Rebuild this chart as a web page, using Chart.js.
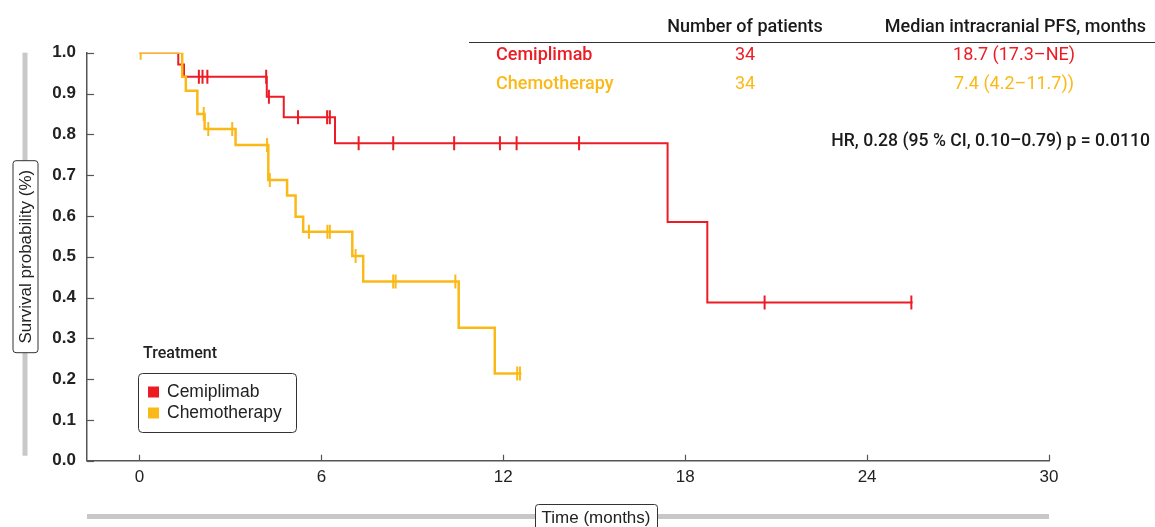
<!DOCTYPE html>
<html>
<head>
<meta charset="utf-8">
<script src="https://cdn.jsdelivr.net/npm/chart.js@4.4.1/dist/chart.umd.min.js"></script>
<style>
  html, body { margin: 0; padding: 0; background: #fff; }
  canvas { display: block; }
</style>
</head>
<body>
<canvas id="kmChart" width="1155" height="527"></canvas>
<script>
// Kaplan-Meier curves: intracranial PFS, cemiplimab vs chemotherapy

const xTicks = [0, 6, 12, 18, 24, 30];
const yTicks = [0, 0.1, 0.2, 0.3, 0.4, 0.5, 0.6, 0.7, 0.8, 0.9, 1.0];

// step points (time in months, survival after the step)
const cemiTimes = [0, 1.28, 1.47, 4.2, 4.76, 6.45, 17.42, 18.73, 25.5];
const cemiSurv = [1.0, 0.971, 0.941, 0.892, 0.842, 0.778, 0.585, 0.388, 0.388];
const cemiCensor = [1.96, 2.08, 2.24, 4.18, 4.27, 5.23, 6.19, 6.28, 7.23, 8.37, 10.38, 11.89, 12.44, 14.5, 20.62, 25.46];

const chemoTimes = [0, 1.41, 1.53, 1.91, 2.15, 3.17, 4.25, 4.87, 5.15, 5.40, 7.02, 7.38, 10.53, 11.72, 12.6];
const chemoSurv = [1.0, 0.941, 0.907, 0.850, 0.813, 0.774, 0.688, 0.650, 0.598, 0.561, 0.502, 0.439, 0.326, 0.214, 0.214];
const chemoCensor = [0.04, 2.12, 2.27, 3.06, 4.21, 4.30, 5.59, 6.20, 6.28, 7.13, 8.37, 8.45, 10.42, 12.46, 12.55];

const groupNames = ['Cemiplimab', 'Chemotherapy'];
const patientCounts = [34, 34];
const medianPFS = ['18.7 (17.3–NE)', '7.4 (4.2–11.7))'];
const tableHeader = ['Number of patients', 'Median intracranial PFS, months'];
const hrText = 'HR, 0.28 (95 % CI, 0.10–0.79) p = 0.0110';

const RED = '#ed1c24';
const YELLOW = '#fbb917';
const FONT = "'Liberation Sans', Arial, sans-serif";
const MED_FONT = "500 18px Roboto, 'Liberation Sans', sans-serif";
const REG_FONT = "400 18px Roboto, 'Liberation Sans', sans-serif";

function survivalAt(times, surv, t) {
    let s = surv[0];
    for (let i = 0; i < times.length; i++) {
        if (times[i] <= t) s = surv[i];
    }
    return s;
}

function curvePoints(times, surv) {
    return times.map((t, i) => ({ x: t, y: surv[i] }));
}

function censorPoints(censor, times, surv) {
    return censor.map(t => ({ x: t, y: survivalAt(times, surv, t) }));
}

function roundRect(ctx, x, y, w, h, r) {
    ctx.beginPath();
    ctx.moveTo(x + r, y);
    ctx.lineTo(x + w - r, y);
    ctx.quadraticCurveTo(x + w, y, x + w, y + r);
    ctx.lineTo(x + w, y + h - r);
    ctx.quadraticCurveTo(x + w, y + h, x + w - r, y + h);
    ctx.lineTo(x + r, y + h);
    ctx.quadraticCurveTo(x, y + h, x, y + h - r);
    ctx.lineTo(x, y + r);
    ctx.quadraticCurveTo(x, y, x + r, y);
    ctx.closePath();
}

const decorPlugin = {
    id: 'decor',
    afterDraw(chart) {
        const ctx = chart.ctx;
        const area = chart.chartArea;
        const xs = chart.scales.x;
        const ys = chart.scales.y;
        ctx.save();

        // inward tick marks
        ctx.strokeStyle = '#555';
        ctx.lineWidth = 1.2;
        xTicks.forEach(v => {
            const px = Math.round(xs.getPixelForValue(v)) + 0.5;
            ctx.beginPath();
            ctx.moveTo(px, area.bottom);
            ctx.lineTo(px, area.bottom - 6);
            ctx.stroke();
        });
        yTicks.forEach(v => {
            const py = Math.round(ys.getPixelForValue(v)) + 0.5;
            ctx.beginPath();
            ctx.moveTo(area.left, py);
            ctx.lineTo(area.left + 7, py);
            ctx.stroke();
        });

        // grey strips behind the axis titles
        ctx.fillStyle = '#c8c8c8';
        ctx.fillRect(22.5, area.top, 5, area.bottom - area.top - 5);
        ctx.fillRect(area.left, 514, area.right - area.left, 5);

        // y title box
        ctx.save();
        ctx.translate(25.5, (area.top + area.bottom) / 2);
        ctx.rotate(-Math.PI / 2);
        roundRect(ctx, -96, -12.5, 192, 25, 3);
        ctx.fillStyle = '#fff';
        ctx.fill();
        ctx.strokeStyle = '#333';
        ctx.lineWidth = 1;
        ctx.stroke();
        ctx.fillStyle = '#222';
        ctx.font = '17px ' + FONT;
        ctx.textAlign = 'center';
        ctx.textBaseline = 'middle';
        ctx.fillText('Survival probability (%)', 0, 1);
        ctx.restore();

        // x title box
        roundRect(ctx, 535.5, 504.5, 122, 30, 3);
        ctx.fillStyle = '#fff';
        ctx.fill();
        ctx.strokeStyle = '#333';
        ctx.lineWidth = 1;
        ctx.stroke();
        ctx.fillStyle = '#222';
        ctx.font = '17px ' + FONT;
        ctx.textAlign = 'center';
        ctx.textBaseline = 'middle';
        ctx.fillText('Time (months)', 596, 518);

        // summary table
        ctx.fillStyle = '#1a1a1a';
        ctx.font = MED_FONT;
        ctx.fillText(tableHeader[0], 745, 27);
        ctx.textAlign = 'right';
        ctx.fillText(tableHeader[1], 1146, 27);
        ctx.strokeStyle = '#333';
        ctx.lineWidth = 1.2;
        ctx.beginPath();
        ctx.moveTo(469, 42.5);
        ctx.lineTo(1155, 42.5);
        ctx.stroke();

        const rowColors = [RED, YELLOW];
        const rowY = [55, 84];
        groupNames.forEach((name, i) => {
            ctx.fillStyle = rowColors[i];
            ctx.font = MED_FONT;
            ctx.textAlign = 'left';
            ctx.fillText(name, 496, rowY[i]);
            ctx.font = REG_FONT;
            ctx.textAlign = 'center';
            ctx.fillText(String(patientCounts[i]), 745, rowY[i]);
            ctx.fillText(medianPFS[i], 1014, rowY[i]);
        });

        ctx.fillStyle = '#1a1a1a';
        ctx.font = "500 17.6px Roboto, 'Liberation Sans', sans-serif";
        ctx.textAlign = 'right';
        ctx.fillText(hrText, 1150, 142);

        // legend
        ctx.textAlign = 'left';
        ctx.font = "500 16px Roboto, 'Liberation Sans', sans-serif";
        ctx.fillStyle = '#222';
        ctx.fillText('Treatment', 143, 354);
        roundRect(ctx, 138.5, 373.5, 158, 59, 4);
        ctx.strokeStyle = '#333';
        ctx.lineWidth = 1;
        ctx.stroke();
        ctx.font = '17.5px ' + FONT;
        const legY = [392, 413];
        groupNames.forEach((name, i) => {
            ctx.fillStyle = rowColors[i];
            ctx.fillRect(148, legY[i] - 5.5, 11, 11);
            ctx.fillStyle = '#222';
            ctx.fillText(name, 167, legY[i]);
        });

        ctx.restore();
    }
};

const ctx = document.getElementById('kmChart').getContext('2d');
new Chart(ctx, {
    type: 'scatter',
    data: {
        datasets: [
            {
                label: 'Chemotherapy',
                data: curvePoints(chemoTimes, chemoSurv),
                showLine: true,
                stepped: true,
                borderColor: YELLOW,
                borderWidth: 2.5,
                pointRadius: 0,
                fill: false
            },
            {
                label: 'Chemotherapy censored',
                data: censorPoints(chemoCensor, chemoTimes, chemoSurv),
                showLine: false,
                pointStyle: 'line',
                rotation: 90,
                pointRadius: 7,
                borderColor: YELLOW,
                pointBorderWidth: 2
            },
            {
                label: 'Cemiplimab',
                data: curvePoints(cemiTimes, cemiSurv),
                showLine: true,
                stepped: true,
                borderColor: RED,
                borderWidth: 2,
                pointRadius: 0,
                fill: false
            },
            {
                label: 'Cemiplimab censored',
                data: censorPoints(cemiCensor, cemiTimes, cemiSurv),
                showLine: false,
                pointStyle: 'line',
                rotation: 90,
                pointRadius: 7,
                borderColor: RED,
                pointBorderWidth: 2
            }
        ]
    },
    options: {
        responsive: false,
        animation: false,
        layout: {
            padding: { left: 0, top: 52.7, right: 106, bottom: 0 }
        },
        plugins: {
            legend: { display: false },
            tooltip: { enabled: false }
        },
        scales: {
            x: {
                type: 'linear',
                min: -1.73,
                max: 30,
                afterBuildTicks: scale => {
                    scale.ticks = xTicks.map(v => ({ value: v }));
                },
                afterFit: scale => {
                    scale.height = 66.3;
                },
                ticks: {
                    autoSkip: false,
                    maxRotation: 0,
                    padding: 6,
                    color: '#222',
                    font: { family: FONT, size: 17 }
                },
                grid: { display: false, drawTicks: false },
                border: { display: true, color: '#555', width: 1.5 }
            },
            y: {
                type: 'linear',
                min: 0,
                max: 1,
                afterBuildTicks: scale => {
                    scale.ticks = yTicks.map(v => ({ value: v }));
                },
                afterFit: scale => {
                    scale.width = 87;
                },
                ticks: {
                    padding: 11,
                    color: '#222',
                    font: { family: FONT, size: 17, weight: 'bold' },
                    callback: v => Number(v).toFixed(1)
                },
                grid: { display: false, drawTicks: false },
                border: { display: true, color: '#555', width: 1.5 }
            }
        }
    },
    plugins: [decorPlugin]
});
</script>
</body>
</html>
